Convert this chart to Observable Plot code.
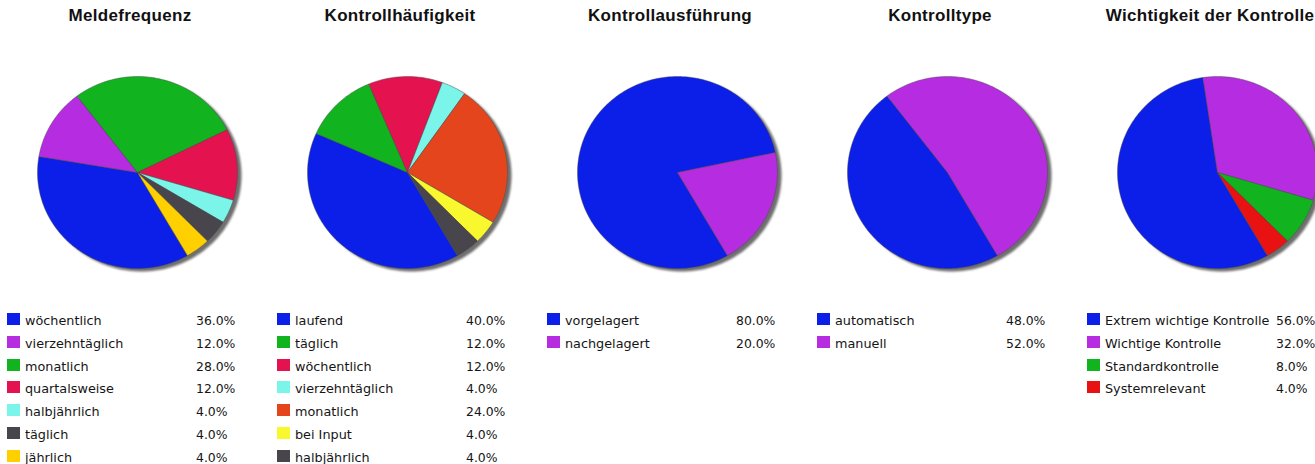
<!DOCTYPE html>
<html><head><meta charset="utf-8">
<script src="https://cdn.jsdelivr.net/npm/d3@7"></script>
<script src="https://cdn.jsdelivr.net/npm/@observablehq/plot@0.6"></script>
<style>
body{margin:0;background:#fff;font-family:"Liberation Sans",Arial,sans-serif;}
#root{position:relative;width:1315px;height:464px;overflow:hidden;background:#fff;}
.panel{position:absolute;top:0;width:270px;height:464px;}
.title{position:absolute;left:0;width:260px;top:6px;text-align:center;font-weight:bold;font-size:17px;letter-spacing:0.3px;line-height:20px;color:#111;white-space:nowrap;font-family:"Liberation Sans",Arial,sans-serif;}
.pie{position:absolute;left:0;top:40px;}
.sw{position:absolute;left:7px;width:13px;height:12px;}
.lab,.pct{position:absolute;font-family:"DejaVu Sans",sans-serif;font-size:12.8px;line-height:13px;color:#151515;white-space:nowrap;}
.lab{left:25px;}
.pct{left:196px;font-size:12.4px;}
</style></head><body><div id="root"></div>
<script>
const titles = ["Meldefrequenz", "Kontrollhäufigkeit", "Kontrollausführung", "Kontrolltype", "Wichtigkeit der Kontrolle"];

const meldeLabels = ["wöchentlich", "vierzehntäglich", "monatlich", "quartalsweise", "halbjährlich", "täglich", "jährlich"];
const meldeValues = [36, 12, 28, 12, 4, 4, 4];
const meldeColors = ["#0b1fe8", "#b62ce0", "#11b41f", "#e4134f", "#7bf5ea", "#48454c", "#ffd000"];

const haeufLabels = ["laufend", "täglich", "wöchentlich", "vierzehntäglich", "monatlich", "bei Input", "halbjährlich"];
const haeufValues = [40, 12, 12, 4, 24, 4, 4];
const haeufColors = ["#0b1fe8", "#11b41f", "#e4134f", "#7bf5ea", "#e5451d", "#f9f82e", "#48454c"];

const ausfLabels = ["vorgelagert", "nachgelagert"];
const ausfValues = [80, 20];
const ausfColors = ["#0b1fe8", "#b62ce0"];

const typLabels = ["automatisch", "manuell"];
const typValues = [48, 52];
const typColors = ["#0b1fe8", "#b62ce0"];

const wichtLabels = ["Extrem wichtige Kontrolle", "Wichtige Kontrolle", "Standardkontrolle", "Systemrelevant"];
const wichtValues = [56, 32, 8, 4];
const wichtColors = ["#0b1fe8", "#b62ce0", "#11b41f", "#e81212"];

const charts = [
  {title: titles[0], labels: meldeLabels, values: meldeValues, colors: meldeColors},
  {title: titles[1], labels: haeufLabels, values: haeufValues, colors: haeufColors},
  {title: titles[2], labels: ausfLabels, values: ausfValues, colors: ausfColors},
  {title: titles[3], labels: typLabels, values: typValues, colors: typColors},
  {title: titles[4], labels: wichtLabels, values: wichtValues, colors: wichtColors}
];

const startAngle = 150; // degrees clockwise from 12 o'clock

function sliceOutlines(labels, values) {
  const total = d3.sum(values);
  let a = startAngle;
  const pts = [];
  values.forEach((v, i) => {
    const span = v / total * 360;
    const n = Math.max(2, Math.ceil(span));
    pts.push({label: labels[i], x: 0, y: 0});
    for (let k = 0; k <= n; k++) {
      const t = (a + span * k / n) * Math.PI / 180;
      pts.push({label: labels[i], x: Math.sin(t), y: Math.cos(t)});
    }
    pts.push({label: labels[i], x: 0, y: 0});
    a += span;
  });
  return pts;
}

function ring() {
  return d3.range(0, 361, 2).map(d => ({x: Math.sin(d * Math.PI / 180), y: Math.cos(d * Math.PI / 180)}));
}

const root = document.getElementById("root");
charts.forEach((c, ci) => {
  const panel = document.createElement("div");
  panel.className = "panel";
  panel.style.left = (270 * ci) + "px";
  root.appendChild(panel);

  const t = document.createElement("div");
  t.className = "title";
  t.textContent = c.title;
  panel.appendChild(t);

  const total = d3.sum(c.values);
  const svg = Plot.plot({
    width: 270, height: 250,
    marginLeft: 37, marginRight: 33, marginTop: 36, marginBottom: 22,
    x: {domain: [-1, 1], axis: null},
    y: {domain: [-1, 1], axis: null},
    color: {domain: c.labels, range: c.colors},
    marks: [
      Plot.line(ring(), {x: "x", y: "y", fill: "#6f6f6f", stroke: "none", dx: 4, dy: 3, imageFilter: "blur(1px)"}),
      Plot.line(sliceOutlines(c.labels, c.values), {x: "x", y: "y", z: "label", fill: "label", stroke: "#4a4a4a", strokeWidth: 0.5, strokeOpacity: 0.9, strokeLinejoin: "round"})
    ]
  });
  const holder = document.createElement("div");
  holder.className = "pie";
  holder.appendChild(svg);
  panel.appendChild(holder);

  c.labels.forEach((lab, i) => {
    const top = 313 + 22.8 * i;
    const sw = document.createElement("div");
    sw.className = "sw";
    sw.style.top = top + "px";
    sw.style.background = c.colors[i];
    panel.appendChild(sw);
    const l = document.createElement("div");
    l.className = "lab";
    l.style.top = (top + 1) + "px";
    l.textContent = lab;
    panel.appendChild(l);
    const p = document.createElement("div");
    p.className = "pct";
    p.style.top = (top + 1) + "px";
    p.textContent = (c.values[i] / total * 100).toFixed(1) + "%";
    panel.appendChild(p);
  });
});
</script>
</body></html>
